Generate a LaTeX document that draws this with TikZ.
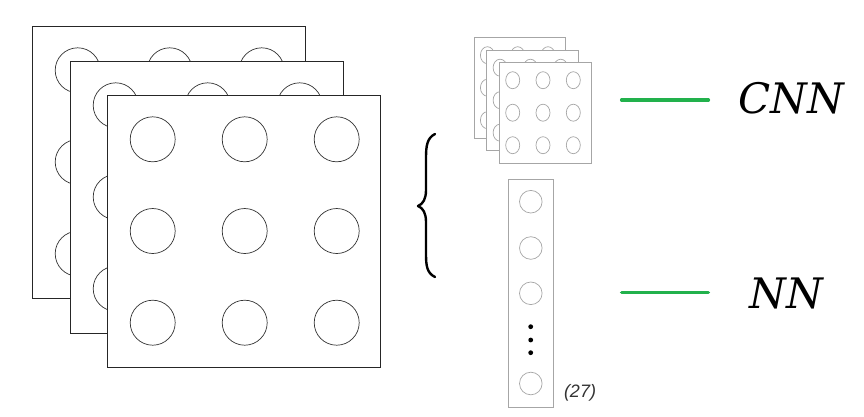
\documentclass[tikz,border=0pt]{standalone}
\usepackage{fontspec}
\newfontfamily\arialish{Liberation Sans}
\newfontfamily\labelfont{DejaVu Serif}
\definecolor{xgreen}{HTML}{22B14C}
\definecolor{lgray}{HTML}{A6A6A6}
\begin{document}
\begin{tikzpicture}[x=1pt,y=-1pt,
  bigsq/.style={draw=black!85,line width=0.9pt,fill=white},
  bigc/.style={draw=black!80,line width=0.7pt},
  smallsq/.style={draw=lgray,line width=0.8pt,fill=white},
  smallc/.style={draw=lgray,line width=0.7pt},
  gline/.style={draw=xgreen,line width=3.6pt,line cap=round},
  lbl/.style={inner sep=0pt,font=\labelfont\itshape\fontsize{42}{46}\selectfont}]
\useasboundingbox (0,0) rectangle (864,416);
% large stack
\foreach \x/\y in {32/26,70/61,107/95}{
  \draw[bigsq] (\x,\y) rectangle ++(273,272);
  \foreach \i in {0,1,2}{
    \foreach \j in {0,1,2}{
      \draw[bigc] (\x+45.7+92*\i,\y+44.3+91.7*\j) circle (22.5);
    }
  }
}
% small stack
\foreach \x/\y in {474/37.5,486.7/50,499.3/62.5}{
  \draw[smallsq] (\x,\y) rectangle ++(91.7,100.5);
  \foreach \i in {0,1,2}{
    \foreach \j in {0,1,2}{
      \draw[smallc] (\x+13.4+30.3*\i,\y+17.7+32.5*\j) ellipse (7 and 8.5);
    }
  }
}
% vector
\draw[smallsq] (508.3,179.3) rectangle (553.3,407);
\foreach \y in {201.7,248,293.3,383.5}{
  \draw[smallc] (530.8,\y) circle (11.3);
}
\foreach \y in {326.7,340,352.7}{
  \fill[black] (530.7,\y) circle (2.4);
}
\node[inner sep=0pt,font=\arialish\itshape\fontsize{18}{20}\selectfont,text=black!80] (n27) at (580,393) {(27)};
% brace
\draw[line width=2.4pt,line cap=round,line join=round] (435,134) .. controls (427,138) and (426,146) .. (426,158)
  -- (426,190) .. controls (426,199) and (423,204) .. (418,206)
  .. controls (423,208) and (426,213) .. (426,222)
  -- (426,254) .. controls (426,266) and (427,273) .. (435,277);
% green lines and labels
\coordinate (g1a) at (621.7,100);
\coordinate (g1b) at (708.3,100);
\coordinate (g2a) at (621.7,292.3);
\coordinate (g2b) at (708.3,292.3);
\draw[gline] (g1a) -- (g1b);
\draw[gline] (g2a) -- (g2b);
\node[lbl] (cnn) at (791,98) {CNN};
\node[lbl] (nn) at (786,293) {NN};
\end{tikzpicture}
\end{document}
